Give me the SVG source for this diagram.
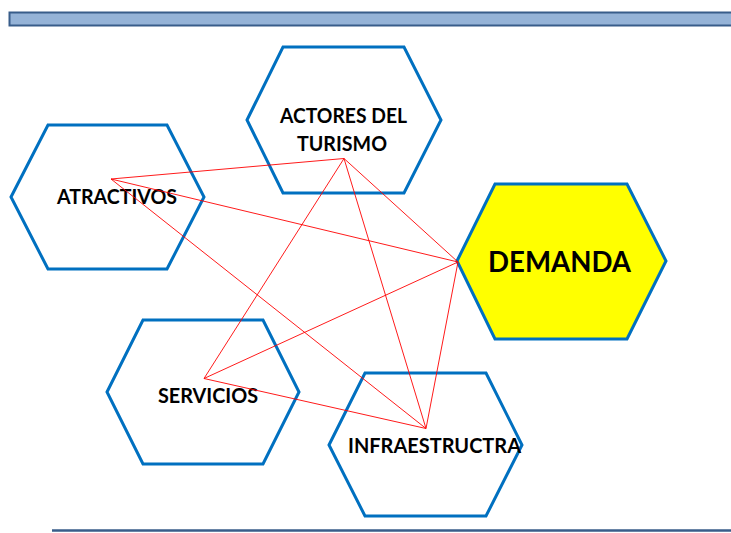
<svg xmlns="http://www.w3.org/2000/svg" width="731" height="533" viewBox="0 0 731 533">
<style>
.hex{fill:#FFFFFF;stroke:#0070C0;stroke-width:3;stroke-linejoin:miter}
.hexy{fill:#FFFF00;stroke:#0070C0;stroke-width:3;stroke-linejoin:miter}
.lbl{font-family:Lato,"Liberation Sans",Arial,sans-serif;font-weight:bold;font-size:20px;fill:#000000;text-anchor:middle}
.big{font-size:28.5px}
.conn line{stroke:#FF0000;stroke-width:0.9}
</style>
<rect width="731" height="533" fill="#FFFFFF"/>
<rect x="9.5" y="12.5" width="725" height="13" fill="#95B3D7" stroke="#385D8A" stroke-width="2"/>
<line x1="52" y1="530.5" x2="731" y2="530.5" stroke="#385D8A" stroke-width="2.5"/>

<g id="atractivos">
<polygon class="hex" points="11,197 48,125 167,125 204,197 167,269 48,269"/>
<text class="lbl" x="117" y="204" textLength="120" lengthAdjust="spacingAndGlyphs">ATRACTIVOS</text>
</g>
<g id="actores">
<polygon class="hex" points="247,120 283,47 404,47 441,120 404,193 283,193"/>
<text class="lbl" x="343.5" y="123" textLength="127" lengthAdjust="spacingAndGlyphs">ACTORES DEL</text>
<text class="lbl" x="342" y="151" textLength="90" lengthAdjust="spacingAndGlyphs">TURISMO</text>
</g>
<g id="demanda">
<polygon class="hexy" points="457,261 495,184 627,184 666,261 627,339 495,339"/>
<text class="lbl big" x="559.5" y="272" textLength="143" lengthAdjust="spacingAndGlyphs">DEMANDA</text>
</g>
<g id="servicios">
<polygon class="hex" points="107,392 143,320 263,320 299,392 263,464 143,464"/>
<text class="lbl" x="208" y="403" textLength="100" lengthAdjust="spacingAndGlyphs">SERVICIOS</text>
</g>
<g id="infraestructura">
<polygon class="hex" points="329,445 365,373 486,373 522,445 486,516 365,516"/>
<text class="lbl" x="434.5" y="453" textLength="173" lengthAdjust="spacingAndGlyphs">INFRAESTRUCTRA</text>
</g>

<g id="connectors" class="conn">
<line x1="111" y1="179" x2="344" y2="158.5"/>
<line x1="111" y1="179" x2="458" y2="262"/>
<line x1="111" y1="179" x2="426" y2="428.5"/>
<line x1="344" y1="158.5" x2="204" y2="378.5"/>
<line x1="344" y1="158.5" x2="426" y2="428.5"/>
<line x1="344" y1="158.5" x2="458" y2="262"/>
<line x1="458" y1="262" x2="204" y2="378.5"/>
<line x1="458" y1="262" x2="426" y2="428.5"/>
<line x1="204" y1="378.5" x2="426" y2="428.5"/>
</g>
</svg>
